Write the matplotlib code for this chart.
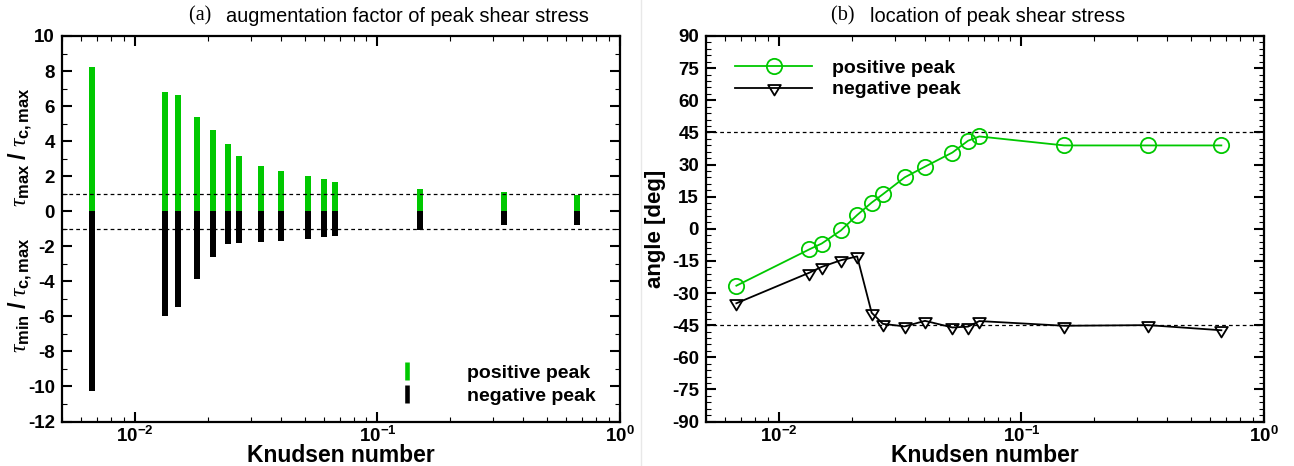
import numpy as np
import matplotlib
matplotlib.use("Agg")
import matplotlib.pyplot as plt
from matplotlib.lines import Line2D
from matplotlib.path import Path
from matplotlib.ticker import FixedLocator, MultipleLocator, NullFormatter

# Knudsen numbers of the cases
knudsen = [0.00667, 0.01335, 0.0150, 0.0180, 0.0210, 0.0241, 0.0268, 0.0330,
           0.0400, 0.0519, 0.0602, 0.0670, 0.150, 0.333, 0.667]

# (a) augmentation factor of peak shear stress
pos_factor = [8.22, 6.79, 6.62, 5.35, 4.63, 3.85, 3.17, 2.60, 2.31, 1.99, 1.83,
              1.67, 1.29, 1.10, 0.95]
neg_factor = [-10.25, -5.96, -5.45, -3.87, -2.59, -1.89, -1.81, -1.77, -1.70,
              -1.56, -1.49, -1.43, -1.05, -0.81, -0.79]

# (b) location of peak shear stress [deg]
pos_angle = [-26.6, -9.6, -6.9, -0.8, 6.4, 12.2, 16.1, 24.0, 29.0, 35.6, 41.1,
             43.1, 38.9, 38.9, 38.9]
neg_angle = [-34.8, -20.5, -17.8, -14.7, -12.9, -39.2, -44.4, -45.6, -43.0,
             -46.1, -45.7, -43.1, -45.3, -45.0, -47.4]

x_ticks = [1e-2, 1e-1, 1e0]
x_ticklabels = [r"$\mathbf{10^{-2}}$", r"$\mathbf{10^{-1}}$", r"$\mathbf{10^{0}}$"]
fac_ticks = list(range(-12, 11, 2))
ang_ticks = list(range(-90, 91, 15))

GREEN = "#00c800"
plt.rcParams["font.family"] = "Liberation Sans"
plt.rcParams["mathtext.fontset"] = "custom"
plt.rcParams["mathtext.rm"] = "Liberation Serif"
plt.rcParams["mathtext.it"] = "Liberation Serif:italic"
plt.rcParams["mathtext.bf"] = "Liberation Sans:bold"

W, H = 1294, 466
fig = plt.figure(figsize=(W / 100, H / 100), dpi=100)

AX_TOP, AX_BOT = 36, 421.5
AX_H = AX_BOT - AX_TOP


def px_axes(x0, x1):
    return fig.add_axes([x0 / W, 1 - AX_BOT / H, (x1 - x0) / W, AX_H / H])


def style_axis(ax, yticks, yminor):
    ax.set_xscale("log")
    ax.set_xlim(0.005, 1.0)
    ax.xaxis.set_major_locator(FixedLocator(x_ticks))
    ax.set_xticklabels(x_ticklabels)
    ax.xaxis.set_minor_formatter(NullFormatter())
    ax.set_yticks(yticks)
    ax.set_yticklabels([str(v) for v in yticks])
    ax.yaxis.set_minor_locator(MultipleLocator(yminor))
    ax.tick_params(which="both", direction="in", top=True, right=True)
    ax.tick_params(which="major", length=7, width=1.5, labelsize=13.5, pad=5)
    ax.tick_params(axis="x", which="major", pad=3)
    ax.tick_params(which="minor", length=3.5, width=0.8)
    for lab in ax.get_yticklabels():
        lab.set_fontweight("bold")
    for s in ax.spines.values():
        s.set_linewidth(1.6)
    ax.set_xlabel("Knudsen number", fontsize=16.5, fontweight="bold")
    ax.xaxis.label.set_va("baseline")
    ax.xaxis.set_label_coords(0.5, (AX_BOT - 462) / AX_H)


# faint separator between the two panels
fig.add_artist(Line2D([641 / W, 641 / W], [0, 1], color="#e8e8e8", lw=1.0))

# ---- (a) bars ----
ax1 = px_axes(62, 620)
hw = 0.0124  # half bar width in decades
kn = np.array(knudsen)
left = kn * 10 ** (-hw)
width = kn * (10 ** hw - 10 ** (-hw))
ax1.bar(left, pos_factor, width=width, align="edge", color=GREEN, linewidth=0)
ax1.bar(left, neg_factor, width=width, align="edge", color="black", linewidth=0)
for yv in (1, -1):
    ax1.axhline(yv, color="black", lw=0.9, ls=(0, (3, 2.5)))
ax1.set_ylim(-12, 10)
style_axis(ax1, fac_ticks, 1)

leg_h1 = [Line2D([], [], ls="none", marker="|", ms=12.5, mew=3.3, color=GREEN),
          Line2D([], [], ls="none", marker="|", ms=12.5, mew=3.3, color="black")]
ax1.legend(leg_h1, ["positive peak", "negative peak"], loc="lower right",
           bbox_to_anchor=(0.988, -0.002), frameon=False, handlelength=2.0,
           handletextpad=2.1, labelspacing=0.25,
           prop={"weight": "bold", "size": 14})

ylab_top = r"$\tau_{\mathbf{max}}\ \mathbf{/}\ \tau_{\mathbf{c,max}}$"
ylab_bot = r"$\tau_{\mathbf{min}}\ \mathbf{/}\ \tau_{\mathbf{c,max}}$"
fig.text(20 / W, 1 - 147 / H, ylab_top, rotation=90, ha="center", va="center",
         fontsize=17)
fig.text(20 / W, 1 - 295 / H, ylab_bot, rotation=90, ha="center", va="center",
         fontsize=17)

# ---- (b) angles ----
ax2 = px_axes(706, 1264)
for yv in (45, -45):
    ax2.axhline(yv, color="black", lw=0.9, ls=(0, (3, 2.5)))
# downward triangle centred on its centroid
tri = Path([(-1, 0.55), (1, 0.55), (0, -1.1), (-1, 0.55)], closed=True)
ax2.plot(knudsen, pos_angle, color=GREEN, lw=1.3, marker="o", ms=11,
         mfc="none", mec=GREEN, mew=1.3, label="positive peak")
ax2.plot(knudsen, neg_angle, color="black", lw=1.3, marker=tri, ms=10,
         mfc="none", mec="black", mew=1.3, label="negative peak")
ax2.set_ylim(-90, 90)
style_axis(ax2, ang_ticks, 3)
ax2.set_ylabel("angle [deg]", fontsize=16, fontweight="bold")
ax2.yaxis.label.set_va("center")
ax2.yaxis.set_label_coords((656 - 706) / (1264 - 706), 0.5)
ax2.legend(loc="upper left", bbox_to_anchor=(0.02, 0.985), frameon=False,
           handlelength=4.0, handletextpad=1.0, labelspacing=0.2,
           prop={"weight": "bold", "size": 14})


# ---- panel titles ----
def panel_title(xc, tag, text):
    fig.text(xc, 1 - 16 / H, tag + "   ", ha="right", va="center",
             fontsize=14.5, family="Liberation Serif")
    fig.text(xc, 1 - 16 / H, text, ha="left", va="center", fontsize=14.4,
             family="Liberation Sans")


panel_title(226 / W, "(a)", "augmentation factor of peak shear stress")
panel_title(870 / W, "(b)", "location of peak shear stress")

fig.savefig("out.png", dpi=100)
